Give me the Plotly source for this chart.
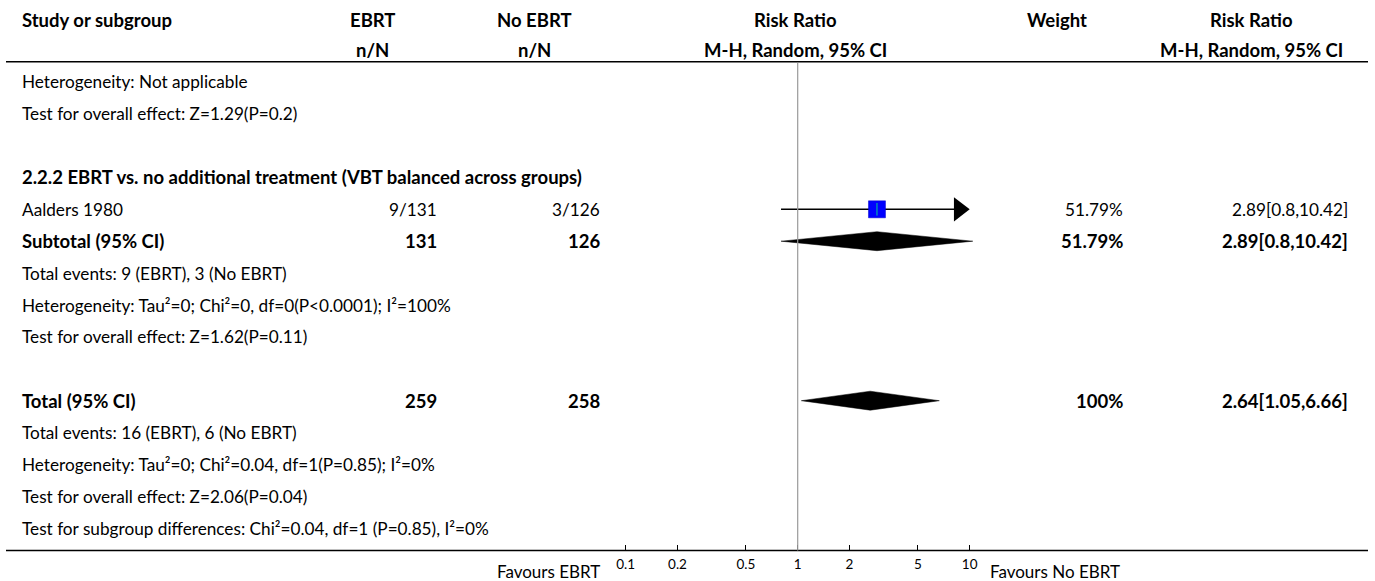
import math
import plotly.graph_objects as go

W, H = 1375, 581
FONT = "Source Sans Pro, Lato, sans-serif"
FS = 17.2      # regular text
FSB = 18.5     # bold text

# ---------------- data ----------------
col_headers_1 = ["Study or subgroup", "EBRT", "No EBRT", "Risk Ratio", "Weight", "Risk Ratio"]
col_headers_2 = ["", "n/N", "n/N", "M-H, Random, 95% CI", "", "M-H, Random, 95% CI"]

study_names = ["Aalders 1980"]
ebrt_events = [9]
ebrt_totals = [131]
noebrt_events = [3]
noebrt_totals = [126]
study_rr = [2.89]
study_lo = [0.8]
study_hi = [10.42]
study_weight = [51.79]

subtotal_label = "Subtotal (95% CI)"
subtotal_n = [131, 126]
subtotal_rr = [2.89, 0.8, 10.42]
subtotal_weight = 51.79

total_label = "Total (95% CI)"
total_n = [259, 258]
total_rr = [2.64, 1.05, 6.66]
total_weight = 100

text_lines = [
    (0, "Heterogeneity: Not applicable", False),
    (1, "Test for overall effect: Z=1.29(P=0.2)", False),
    (3, "2.2.2 EBRT vs. no additional treatment (VBT balanced across groups)", True),
    (6, "Total events: 9 (EBRT), 3 (No EBRT)", False),
    (7, "Heterogeneity: Tau\u00b2=0; Chi\u00b2=0, df=0(P<0.0001); I\u00b2=100%", False),
    (8, "Test for overall effect: Z=1.62(P=0.11)", False),
    (11, "Total events: 16 (EBRT), 6 (No EBRT)", False),
    (12, "Heterogeneity: Tau\u00b2=0; Chi\u00b2=0.04, df=1(P=0.85); I\u00b2=0%", False),
    (13, "Test for overall effect: Z=2.06(P=0.04)", False),
    (14, "Test for subgroup differences: Chi\u00b2=0.04, df=1 (P=0.85), I\u00b2=0%", False),
]
study_rows = [4]
subtotal_row = 5
total_row = 10

tick_vals = [0.1, 0.2, 0.5, 1, 2, 5, 10]
tick_text = ["0.1", "0.2", "0.5", "1", "2", "5", "10"]
axis_min, axis_max = 0.1, 10
favours_left = "Favours EBRT"
favours_right = "Favours No EBRT"

# ---------------- layout constants (table columns, px) ----------------
COL_EDGES = [6, 292, 453, 616, 974, 1139, 1364]
PAD = 14
ROW0, PITCH = 81.7, 31.9
HDR1_Y, HDR2_Y, HDR_LINE_Y = 20, 50, 61.7
BOTTOM_Y = 550.5
FAV_Y = 571
REF_PX, PX_PER_DEC = 797.7, 172.0
ARROW_R = 10.5


def row_y(i):
    return ROW0 + i * PITCH


def col_center(c):
    return (COL_EDGES[c] + COL_EDGES[c + 1]) / 2


def col_right(c):
    return COL_EDGES[c + 1] - PAD


X_LEFT = COL_EDGES[0] + PAD

fig = go.Figure()
ann = []


def txt(x, y, s, anchor="left", bold=False, size=None):
    if size is None:
        size = FSB if bold else FS
    ann.append(dict(x=x, y=y, xref="x", yref="y", text=("<b>%s</b>" % s) if bold else s,
                    showarrow=False, xanchor=anchor, yanchor="middle",
                    font=dict(family=FONT, size=size, color="black")))


# headers
txt(X_LEFT, HDR1_Y, col_headers_1[0], "left", True)
for c in range(1, 6):
    txt(col_center(c), HDR1_Y, col_headers_1[c], "center", True)
    if col_headers_2[c]:
        txt(col_center(c), HDR2_Y, col_headers_2[c], "center", True)

for r, s, b in text_lines:
    txt(X_LEFT, row_y(r), s, "left", b)

# studies
for k, r in enumerate(study_rows):
    y = row_y(r)
    txt(X_LEFT, y, study_names[k])
    txt(col_right(1), y, "%d/%d" % (ebrt_events[k], ebrt_totals[k]), "right")
    txt(col_right(2), y, "%d/%d" % (noebrt_events[k], noebrt_totals[k]), "right")
    txt(col_right(4), y, "%.2f%%" % study_weight[k], "right")
    txt(col_right(5), y, "%g[%g,%g]" % (study_rr[k], study_lo[k], study_hi[k]), "right")
    over = study_hi[k] > axis_max
    arrow_x = 10 ** (math.log10(axis_max) - ARROW_R / PX_PER_DEC)
    fig.add_trace(go.Scatter(x=[study_lo[k], arrow_x if over else study_hi[k]], y=[y, y],
                             xaxis="x2", yaxis="y", mode="lines",
                             line=dict(color="black", width=1.5),
                             hoverinfo="skip", showlegend=False))
    fig.add_trace(go.Scatter(x=[study_rr[k]], y=[y], xaxis="x2", yaxis="y", mode="markers",
                             marker=dict(symbol="square", size=17, color="#0000ff",
                                         line=dict(color="#0000cc", width=0.5)),
                             cliponaxis=False, hoverinfo="skip", showlegend=False))
    fig.add_trace(go.Scatter(x=[study_rr[k]], y=[y], xaxis="x2", yaxis="y", mode="markers",
                             marker=dict(symbol="line-ns-open", size=9,
                                         line=dict(color="black", width=1)),
                             cliponaxis=False, hoverinfo="skip", showlegend=False))
    if over:
        fig.add_trace(go.Scatter(x=[arrow_x], y=[y], xaxis="x2", yaxis="y", mode="markers",
                                 marker=dict(symbol="triangle-right", size=2 * ARROW_R,
                                             color="black", line=dict(width=0)),
                                 cliponaxis=False, hoverinfo="skip", showlegend=False))


def diamond(row, est, lo, hi, half=9.5):
    y = row_y(row)
    fig.add_trace(go.Scatter(x=[lo, est, hi, est, lo], y=[y, y - half, y, y + half, y],
                             xaxis="x2", yaxis="y", mode="lines", fill="toself",
                             fillcolor="black", line=dict(color="black", width=0.5),
                             hoverinfo="skip", showlegend=False))


# subtotal
ys = row_y(subtotal_row)
txt(X_LEFT, ys, subtotal_label, "left", True)
txt(col_right(1), ys, str(subtotal_n[0]), "right", True)
txt(col_right(2), ys, str(subtotal_n[1]), "right", True)
txt(col_right(4), ys, "%.2f%%" % subtotal_weight, "right", True)
txt(col_right(5), ys, "%g[%g,%g]" % tuple(subtotal_rr), "right", True)
diamond(subtotal_row, *subtotal_rr)

# total
yt = row_y(total_row)
txt(X_LEFT, yt, total_label, "left", True)
txt(col_right(1), yt, str(total_n[0]), "right", True)
txt(col_right(2), yt, str(total_n[1]), "right", True)
txt(col_right(4), yt, "%d%%" % total_weight, "right", True)
txt(col_right(5), yt, "%g[%g,%g]" % tuple(total_rr), "right", True)
diamond(total_row, *total_rr)

# favours labels
txt(col_right(2), FAV_Y, favours_left, "right", size=17)
txt(COL_EDGES[4] + PAD, FAV_Y, favours_right, "left", size=17)

# lines
shapes = [
    dict(type="line", xref="x", yref="y", x0=COL_EDGES[0], x1=1368, y0=HDR_LINE_Y, y1=HDR_LINE_Y,
         line=dict(color="black", width=1.5)),
    dict(type="line", xref="x", yref="y", x0=COL_EDGES[0], x1=1368, y0=BOTTOM_Y, y1=BOTTOM_Y,
         line=dict(color="black", width=1.5)),
    dict(type="line", xref="x2", yref="y", x0=1, x1=1, y0=HDR_LINE_Y + 1, y1=BOTTOM_Y,
         line=dict(color="#9a9a9a", width=1.2)),
]

# log axis spanning the whole (overlaid) width: 1 at REF_PX, PX_PER_DEC per decade
lmin = (0 - REF_PX) / PX_PER_DEC
lmax = (W - REF_PX) / PX_PER_DEC

fig.update_layout(
    width=W, height=H, margin=dict(l=0, r=0, t=0, b=0),
    paper_bgcolor="white", plot_bgcolor="white",
    xaxis=dict(range=[0, W], visible=False, domain=[0, 1], fixedrange=True),
    yaxis=dict(range=[H, 0], visible=False, domain=[0, 1], fixedrange=True),
    xaxis2=dict(type="log", range=[lmin, lmax], overlaying="x",
                anchor="free", position=1 - BOTTOM_Y / H, side="bottom",
                showgrid=False, zeroline=False, showline=False,
                ticks="inside", ticklen=6, tickwidth=1, tickcolor="black",
                tickvals=tick_vals, ticktext=tick_text, ticklabelstandoff=4,
                tickfont=dict(family=FONT, size=13.5, color="black"), fixedrange=True),
    annotations=ann, shapes=shapes, showlegend=False,
)

fig.write_html("out.html")
